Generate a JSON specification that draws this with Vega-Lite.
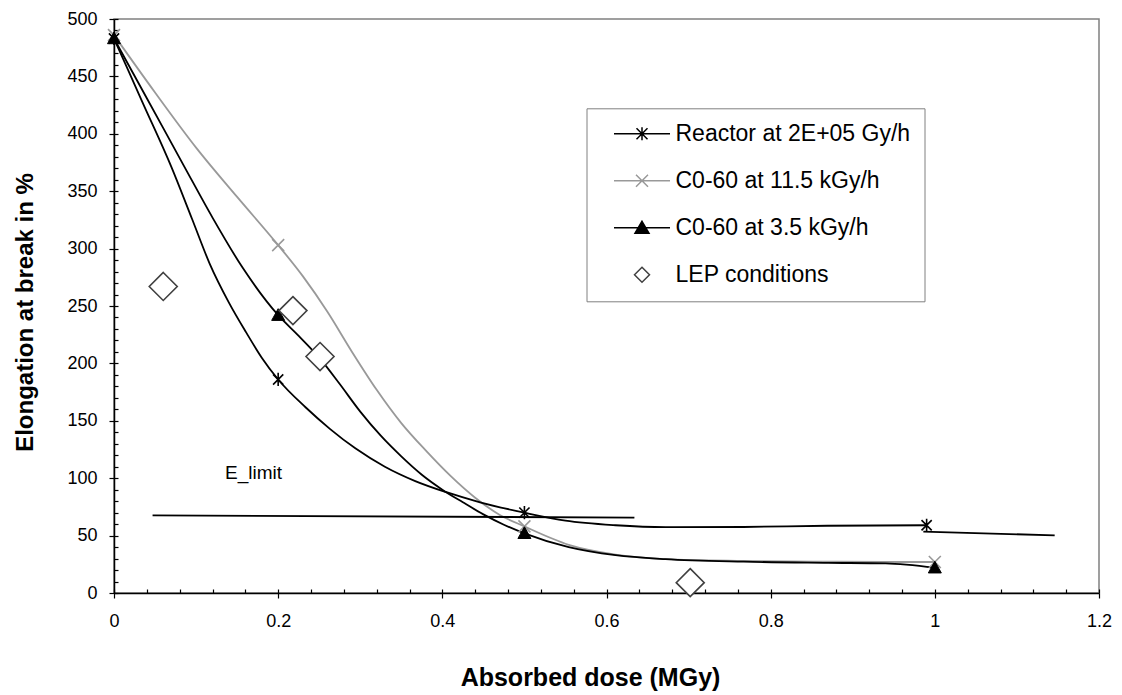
{
  "$schema": "https://vega.github.io/schema/vega-lite/v6.json",
  "width": 985,
  "height": 574,
  "autosize": {"type": "none"},
  "padding": {"left": 114, "top": 19, "right": 23, "bottom": 102},
  "background": "white",
  "config": {
    "view": {"stroke": "#808080", "strokeWidth": 1.5},
    "font": "Liberation Sans"
  },
  "datasets": {
    "curves": [
      {"curve": "Reactor", "x": 0, "y": 483},
      {"curve": "Reactor", "x": 0.035, "y": 427},
      {"curve": "Reactor", "x": 0.07, "y": 371},
      {"curve": "Reactor", "x": 0.095, "y": 326},
      {"curve": "Reactor", "x": 0.1165, "y": 287},
      {"curve": "Reactor", "x": 0.14, "y": 253},
      {"curve": "Reactor", "x": 0.161, "y": 227},
      {"curve": "Reactor", "x": 0.18, "y": 205},
      {"curve": "Reactor", "x": 0.2, "y": 186},
      {"curve": "Reactor", "x": 0.233, "y": 162},
      {"curve": "Reactor", "x": 0.263, "y": 143},
      {"curve": "Reactor", "x": 0.294, "y": 126},
      {"curve": "Reactor", "x": 0.33, "y": 110},
      {"curve": "Reactor", "x": 0.367, "y": 97.5},
      {"curve": "Reactor", "x": 0.404, "y": 88},
      {"curve": "Reactor", "x": 0.446, "y": 79},
      {"curve": "Reactor", "x": 0.5, "y": 70},
      {"curve": "Reactor", "x": 0.55, "y": 63},
      {"curve": "Reactor", "x": 0.611, "y": 59},
      {"curve": "Reactor", "x": 0.672, "y": 57.3},
      {"curve": "Reactor", "x": 0.767, "y": 57.5},
      {"curve": "Reactor", "x": 0.869, "y": 58.6},
      {"curve": "Reactor", "x": 0.99, "y": 59},
      {"curve": "Reactor tail", "x": 0.986, "y": 53.5},
      {"curve": "Reactor tail", "x": 1.146, "y": 50.2},
      {"curve": "E_limit", "x": 0.047, "y": 67.6},
      {"curve": "E_limit", "x": 0.634, "y": 65.7},
      {"curve": "Co 3.5", "x": 0, "y": 483},
      {"curve": "Co 3.5", "x": 0.04, "y": 431},
      {"curve": "Co 3.5", "x": 0.086, "y": 371},
      {"curve": "Co 3.5", "x": 0.12, "y": 327},
      {"curve": "Co 3.5", "x": 0.157, "y": 283},
      {"curve": "Co 3.5", "x": 0.2, "y": 242},
      {"curve": "Co 3.5", "x": 0.225, "y": 224},
      {"curve": "Co 3.5", "x": 0.25, "y": 205},
      {"curve": "Co 3.5", "x": 0.275, "y": 182},
      {"curve": "Co 3.5", "x": 0.3, "y": 158},
      {"curve": "Co 3.5", "x": 0.325, "y": 137},
      {"curve": "Co 3.5", "x": 0.35, "y": 119},
      {"curve": "Co 3.5", "x": 0.375, "y": 103},
      {"curve": "Co 3.5", "x": 0.4, "y": 90},
      {"curve": "Co 3.5", "x": 0.425, "y": 79},
      {"curve": "Co 3.5", "x": 0.45, "y": 68.5},
      {"curve": "Co 3.5", "x": 0.475, "y": 59.5},
      {"curve": "Co 3.5", "x": 0.5, "y": 52},
      {"curve": "Co 3.5", "x": 0.554, "y": 40},
      {"curve": "Co 3.5", "x": 0.611, "y": 33},
      {"curve": "Co 3.5", "x": 0.672, "y": 29.5},
      {"curve": "Co 3.5", "x": 0.767, "y": 27.3},
      {"curve": "Co 3.5", "x": 0.87, "y": 26.3},
      {"curve": "Co 3.5", "x": 0.94, "y": 25.8},
      {"curve": "Co 3.5", "x": 1.0, "y": 22},
      {"curve": "Co 11.5", "x": 0, "y": 486},
      {"curve": "Co 11.5", "x": 0.05, "y": 436},
      {"curve": "Co 11.5", "x": 0.1, "y": 388},
      {"curve": "Co 11.5", "x": 0.15, "y": 345},
      {"curve": "Co 11.5", "x": 0.2, "y": 303},
      {"curve": "Co 11.5", "x": 0.23, "y": 276},
      {"curve": "Co 11.5", "x": 0.26, "y": 245},
      {"curve": "Co 11.5", "x": 0.29, "y": 210},
      {"curve": "Co 11.5", "x": 0.32, "y": 177},
      {"curve": "Co 11.5", "x": 0.35, "y": 148},
      {"curve": "Co 11.5", "x": 0.38, "y": 124},
      {"curve": "Co 11.5", "x": 0.41, "y": 102},
      {"curve": "Co 11.5", "x": 0.44, "y": 83},
      {"curve": "Co 11.5", "x": 0.47, "y": 68},
      {"curve": "Co 11.5", "x": 0.5, "y": 58},
      {"curve": "Co 11.5", "x": 0.554, "y": 42},
      {"curve": "Co 11.5", "x": 0.611, "y": 33.5},
      {"curve": "Co 11.5", "x": 0.672, "y": 29.5},
      {"curve": "Co 11.5", "x": 0.767, "y": 28},
      {"curve": "Co 11.5", "x": 0.87, "y": 27.3},
      {"curve": "Co 11.5", "x": 0.94, "y": 27},
      {"curve": "Co 11.5", "x": 1.0, "y": 27}
    ],
    "markers": [
      {"series": "Reactor at 2E+05 Gy/h", "x": 0, "y": 483},
      {"series": "Reactor at 2E+05 Gy/h", "x": 0.2, "y": 186},
      {"series": "Reactor at 2E+05 Gy/h", "x": 0.5, "y": 70},
      {"series": "Reactor at 2E+05 Gy/h", "x": 0.99, "y": 59},
      {"series": "C0-60 at 11.5 kGy/h", "x": 0, "y": 486},
      {"series": "C0-60 at 11.5 kGy/h", "x": 0.2, "y": 303},
      {"series": "C0-60 at 11.5 kGy/h", "x": 0.5, "y": 58},
      {"series": "C0-60 at 11.5 kGy/h", "x": 1.0, "y": 27},
      {"series": "C0-60 at 3.5 kGy/h", "x": 0, "y": 483},
      {"series": "C0-60 at 3.5 kGy/h", "x": 0.2, "y": 242},
      {"series": "C0-60 at 3.5 kGy/h", "x": 0.5, "y": 52},
      {"series": "C0-60 at 3.5 kGy/h", "x": 1.0, "y": 22},
      {"series": "LEP conditions", "x": 0.06, "y": 267},
      {"series": "LEP conditions", "x": 0.218, "y": 246},
      {"series": "LEP conditions", "x": 0.251, "y": 206},
      {"series": "LEP conditions", "x": 0.702, "y": 9}
    ],
    "annot": [
      {"label": "E_limit", "x": 0.17, "y": 104.5}
    ]
  },
  "layer": [
    {
      "encoding": {
        "x": {
          "field": "x", "type": "quantitative",
          "scale": {"domain": [0, 1.2], "nice": false, "zero": false},
          "axis": {
            "values": [0, 0.2, 0.4, 0.6, 0.8, 1, 1.2],
            "format": "~g",
            "grid": false,
            "labelFlush": false,
            "labelOverlap": false,
            "tickSize": 5, "tickColor": "black", "tickWidth": 1.2,
            "domainColor": "black", "domainWidth": 1.5,
            "labelFont": "Liberation Sans", "labelFontSize": 18, "labelColor": "black", "labelPadding": 14,
            "title": "Absorbed dose (MGy)",
            "titleFont": "Liberation Sans", "titleFontSize": 25, "titleFontWeight": "bold", "titleColor": "black",
            "titleX": 476, "titleY": 84, "titleBaseline": "middle", "titleAlign": "center"
          }
        },
        "y": {
          "field": "y", "type": "quantitative",
          "scale": {"domain": [0, 500], "nice": false, "zero": false},
          "axis": {
            "values": [0, 50, 100, 150, 200, 250, 300, 350, 400, 450, 500],
            "grid": false,
            "labelOverlap": false,
            "labelFlush": false,
            "tickSize": 5, "tickColor": "black", "tickWidth": 1.2,
            "domainColor": "black", "domainWidth": 1.5,
            "labelFont": "Liberation Sans", "labelFontSize": 18, "labelColor": "black", "labelPadding": 12,
            "title": "Elongation at break in %",
            "titleFont": "Liberation Sans", "titleFontSize": 24, "titleFontWeight": "bold", "titleColor": "black",
            "titleX": -89, "titleY": 293, "titleAngle": -90, "titleBaseline": "middle", "titleAlign": "center"
          }
        }
      },
      "layer": [
        {
          "data": {"name": "curves"},
          "transform": [{"filter": "datum.curve === 'Co 11.5'"}],
          "mark": {"type": "line", "interpolate": "monotone", "stroke": "#999999", "strokeWidth": 1.8},
          "encoding": {"detail": {"field": "curve", "type": "nominal"}}
        },
        {
          "data": {"name": "curves"},
          "transform": [{"filter": "datum.curve !== 'Co 11.5'"}],
          "mark": {"type": "line", "interpolate": "monotone", "stroke": "black", "strokeWidth": 1.8},
          "encoding": {"detail": {"field": "curve", "type": "nominal"}}
        },
        {
          "data": {"name": "annot"},
          "mark": {"type": "text", "font": "Liberation Sans", "fontSize": 19, "color": "black", "align": "center", "baseline": "middle"},
          "encoding": {"text": {"field": "label", "type": "nominal"}}
        },
        {
          "data": {"name": "markers"},
          "transform": [{"filter": "datum.series === 'C0-60 at 11.5 kGy/h'"}],
          "mark": {"type": "point", "shape": "M-1,-1L1,1M-1,1L1,-1", "size": 144, "stroke": "#999999", "strokeWidth": 1.6, "fill": "transparent", "opacity": 1}
        },
        {
          "data": {"name": "markers"},
          "transform": [{"filter": "datum.series === 'Reactor at 2E+05 Gy/h'"}],
          "mark": {"type": "point", "shape": "M-0.85,-0.85L0.85,0.85M-0.85,0.85L0.85,-0.85M0,-1.1V1.1", "size": 144, "stroke": "black", "strokeWidth": 1.6, "fill": "transparent", "opacity": 1}
        },
        {
          "data": {"name": "markers"},
          "transform": [{"filter": "datum.series === 'C0-60 at 3.5 kGy/h'"}],
          "mark": {"type": "point", "shape": "M0,-1L1,0.8L-1,0.8Z", "size": 169, "stroke": "black", "strokeWidth": 1, "fill": "black", "filled": true, "opacity": 1}
        },
        {
          "data": {"name": "markers"},
          "transform": [{"filter": "datum.series === 'LEP conditions'"}],
          "mark": {"type": "point", "shape": "M0,-1L1,0L0,1L-1,0Z", "size": 784, "stroke": "#404040", "strokeWidth": 1.6, "fill": "white", "opacity": 1}
        },
        {
          "data": {"values": []},
          "mark": {"type": "point", "opacity": 1, "strokeWidth": 1.5, "size": 400},
          "encoding": {
            "shape": {
              "field": "series", "type": "nominal",
              "scale": {
                "domain": ["Reactor at 2E+05 Gy/h", "C0-60 at 11.5 kGy/h", "C0-60 at 3.5 kGy/h", "LEP conditions"],
                "range": [
                  "M-2.8,0H2.8M-0.55,-0.55L0.55,0.55M-0.55,0.55L0.55,-0.55M0,-0.65V0.65",
                  "M-2.8,0H2.8M-0.6,-0.6L0.6,0.6M-0.6,0.6L0.6,-0.6",
                  "M-2.8,0H2.8M0,-0.65L0.7,0.55L-0.7,0.55Z",
                  "M0,-0.75L0.75,0L0,0.75L-0.75,0Z"
                ]
              },
              "legend": {
                "title": null, "orient": "none", "legendX": 472.5, "legendY": 89.3,
                "strokeColor": "#808080", "fillColor": "white", "padding": 14,
                "symbolSize": 400, "symbolStrokeWidth": 1.5, "symbolOffset": 30, "labelOffset": 22,
                "labelFont": "Liberation Sans", "labelFontSize": 23, "labelColor": "black",
                "rowPadding": 23, "labelLimit": 400
              }
            },
            "stroke": {
              "field": "series", "type": "nominal",
              "scale": {
                "domain": ["Reactor at 2E+05 Gy/h", "C0-60 at 11.5 kGy/h", "C0-60 at 3.5 kGy/h", "LEP conditions"],
                "range": ["black", "#999999", "black", "#404040"]
              },
              "legend": {
                "title": null, "orient": "none", "legendX": 472.5, "legendY": 89.3,
                "strokeColor": "#808080", "fillColor": "white", "padding": 14,
                "symbolSize": 400, "symbolStrokeWidth": 1.5, "symbolOffset": 30, "labelOffset": 22,
                "labelFont": "Liberation Sans", "labelFontSize": 23, "labelColor": "black",
                "rowPadding": 23, "labelLimit": 400
              }
            },
            "fill": {
              "field": "series", "type": "nominal",
              "scale": {
                "domain": ["Reactor at 2E+05 Gy/h", "C0-60 at 11.5 kGy/h", "C0-60 at 3.5 kGy/h", "LEP conditions"],
                "range": ["transparent", "transparent", "black", "white"]
              },
              "legend": {
                "title": null, "orient": "none", "legendX": 472.5, "legendY": 89.3,
                "strokeColor": "#808080", "fillColor": "white", "padding": 14,
                "symbolSize": 400, "symbolStrokeWidth": 1.5, "symbolOffset": 30, "labelOffset": 22,
                "labelFont": "Liberation Sans", "labelFontSize": 23, "labelColor": "black",
                "rowPadding": 23, "labelLimit": 400
              }
            }
          }
        }
      ]
    },
    {
      "data": {"name": "markers"},
      "mark": {"type": "point", "opacity": 0, "size": 1},
      "encoding": {
        "x": {
          "field": "x", "type": "quantitative",
          "scale": {"domain": [0, 1.2], "nice": false, "zero": false},
          "axis": {
            "orient": "top", "offset": -574,
            "values": [0, 0.04, 0.08, 0.12, 0.16, 0.2, 0.24, 0.28, 0.32, 0.36, 0.4, 0.44, 0.48, 0.52, 0.56, 0.6, 0.64, 0.68, 0.72, 0.76, 0.8, 0.84, 0.88, 0.92, 0.96, 1, 1.04, 1.08, 1.12, 1.16, 1.2],
            "labels": false, "domain": false, "grid": false, "title": null, "ticks": true,
            "tickSize": 4, "tickColor": "black", "tickWidth": 1.2, "tickOpacity": 1
          }
        },
        "y": {
          "field": "y", "type": "quantitative",
          "scale": {"domain": [0, 500], "nice": false, "zero": false},
          "axis": {
            "orient": "right", "offset": -985,
            "values": [0, 10, 20, 30, 40, 50, 60, 70, 80, 90, 100, 110, 120, 130, 140, 150, 160, 170, 180, 190, 200, 210, 220, 230, 240, 250, 260, 270, 280, 290, 300, 310, 320, 330, 340, 350, 360, 370, 380, 390, 400, 410, 420, 430, 440, 450, 460, 470, 480, 490, 500],
            "labels": false, "domain": false, "grid": false, "title": null, "ticks": true,
            "tickSize": 4, "tickColor": "black", "tickWidth": 1.2, "tickOpacity": 1
          }
        }
      }
    }
  ],
  "resolve": {"scale": {"x": "independent", "y": "independent"}, "axis": {"x": "independent", "y": "independent"}}
}
